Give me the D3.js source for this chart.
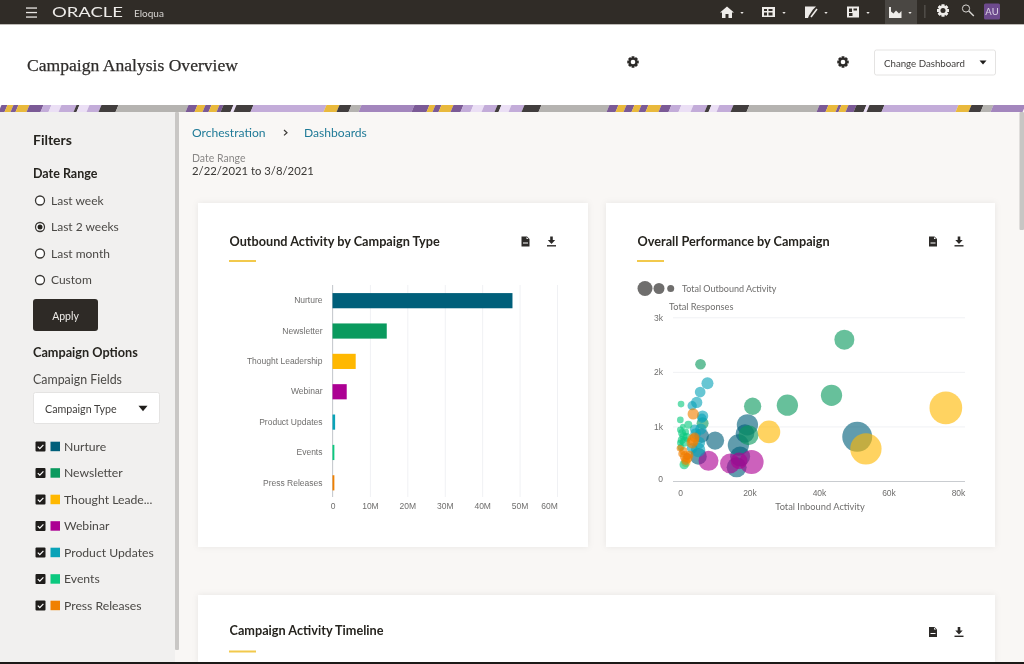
<!DOCTYPE html>
<html>
<head>
<meta charset="utf-8">
<script src="https://cdn.jsdelivr.net/npm/d3@7"></script>
<style>
  html, body { margin: 0; padding: 0; background: #f9f7f5; overflow: hidden; }
  svg { display: block; font-family: Lato, "Open Sans", sans-serif; filter: blur(0.4px); }
  .domain { display: none; }
</style>
</head>
<body>
<svg id="page" width="1024" height="664"></svg>
<script>
// ---- data ----
const campaignTypes = ["Nurture", "Newsletter", "Thought Leadership", "Webinar", "Product Updates", "Events", "Press Releases"];
const outboundTotals = [48.1, 14.5, 6.2, 3.8, 0.7, 0.5, 0.5]; // millions
const outboundTicks = [0, 10, 20, 30, 40, 50, 60];
const inboundTicks = [0, 20, 40, 60, 80];
const responseTicks = [0, 1, 2, 3];
const sidebarLabels = ["Nurture", "Newsletter", "Thought Leade...", "Webinar", "Product Updates", "Events", "Press Releases"];
const dateOptions = ["Last week", "Last 2 weeks", "Last month", "Custom"];

// [inbound k, responses k, outbound M]
const nurturePoints = [[51, .81, 9.3], [19.4, 1.03, 4.7], [18.7, .87, 3.6], [16.8, .66, 4.7], [16.3, .25, 4.15], [17.3, .45, 4.15], [10.1, .74, 3.4], [6.2, .83, 2.2], [5.3, .45, 2.9]];
const newsletterPoints = [[47.3, 2.59, 4.15], [43.6, 1.57, 4.7], [30.9, 1.39, 4.7], [20.9, 1.37, 3.1], [5.9, 2.14, 1.18], [19.7, .84, 4.15], [6.5, 1.06, 1.5]];
const thoughtPoints = [[76.5, 1.34, 11.08], [53.5, .59, 10.2], [25.6, .9, 5.3], [1.7, .34, .9]];
const webinarPoints = [[8.2, .37, 4.15], [14.4, .32, 4.15], [20.6, .35, 6], [17, .37, 2.9], [2, .45, .5]];
const productPoints = [[7.9, 1.79, 1.5], [5.8, 1.63, 1.18], [4.8, 1.44, 1.33], [3.5, 1.38, .9], [6.5, 1.19, 1.33], [6.3, 1.15, .9], [4.5, .87, 1.18], [5.2, .57, 2.2], [4.2, .95, .9], [6, .95, 1.3], [5.5, .7, 1.5], [3.5, .6, 1.2]];
const eventPoints = [[.3, 1.41, .46], [.1, 1.12, .46], [2.4, 1.03, .66], [.1, .94, .46], [.5, .75, .66], [1.4, .72, 1.05], [.1, .7, .46], [1.2, .3, .9], [.8, 1, .3], [1.6, .9, .5], [1, .82, .66], [.6, .88, .66], [2, .8, .8], [.3, .62, .5]];
const pressPoints = [[3.8, 1.23, 1.33], [3.8, .75, 1.5], [0, .6, .46], [1.5, .45, 1.18], [2.7, .48, .66], [1.7, .38, .9], [.5, .5, .5], [2.2, .42, 1], [1, .55, .66], [3.5, .7, 1.3], [4.2, .8, 1]];
const scatterSeries = [nurturePoints, newsletterPoints, thoughtPoints, webinarPoints, productPoints, eventPoints, pressPoints];

const typeColors = ["#005f7a", "#0a9a5e", "#ffb800", "#ac0093", "#0aa3b8", "#0cc97f", "#f08000"];

// decorative band under the header: [start, end, colour]
const P = "#7b5a96", Y = "#e9b93c", L = "#c3acd9", V = "#ebdff5", D = "#423e3e", G = "#b5b3b0", M = "#a386bd";
const bannerStrip = [[0,6,P],[6,12,Y],[12,17,P],[17,28,Y],[28,42,P],[42,50,L],[50,60,V],[60,75,L],[75,78,D],[78,88,V],[88,100,L],[100,117,D],[117,187,G],
  [187,196,P],[196,204,Y],[204,210,P],[210,218,Y],[218,222,P],[222,232,D],[232,235,V],[235,252,D],[252,325,L],[325,338,Y],[338,350,D],[350,360,G],
  [360,413,M],[413,428,P],[428,434,Y],[434,440,P],[440,452,Y],[452,462,P],[462,472,L],[472,483,V],[483,496,L],[496,500,D],[500,510,V],[510,523,L],[523,540,D],[540,608,G],
  [608,617,P],[617,625,Y],[625,633,P],[633,640,Y],[640,647,P],[647,660,Y],[660,670,P],[670,680,L],[680,692,V],[692,706,L],[706,710,D],[710,718,V],[718,732,L],[732,748,D],[748,818,G],
  [818,827,P],[827,837,Y],[837,840,P],[840,847,Y],[847,855,P],[855,865,D],[865,868,V],[868,883,D],[883,957,L],[957,970,Y],[970,982,D],[982,992,G],[992,1024,M]];

const svg = d3.select("#page");

function label(parent, x, y, str, size, color, weight, anchor) {
  return parent.append("text").attr("x", x).attr("y", y).attr("dy", "0.35em")
    .attr("font-size", size).attr("fill", color).attr("font-weight", weight || 400)
    .attr("text-anchor", anchor || "start").text(str);
}
function box(parent, x, y, w, h, fill, r) {
  return parent.append("rect").attr("x", x).attr("y", y).attr("width", w).attr("height", h)
    .attr("fill", fill).attr("rx", r || 0);
}
function caret(parent, cx, cy, half, color) {
  parent.append("path").attr("d", `M${cx - half},${cy - half * 0.6}h${half * 2}l${-half},${half * 1.2}z`).attr("fill", color);
}
function gear(parent, cx, cy, r, color, hole) {
  const g = parent.append("g").attr("transform", `translate(${cx},${cy})`);
  d3.range(8).forEach(i => {
    g.append("rect").attr("x", -r * 0.24).attr("y", -r).attr("width", r * 0.48).attr("height", r * 2)
      .attr("fill", color).attr("transform", `rotate(${i * 45})`);
  });
  g.append("circle").attr("r", r * 0.78).attr("fill", color);
  g.append("circle").attr("r", r * 0.42).attr("fill", hole);
}
function docIcon(parent, cx, cy) {
  parent.append("path").attr("d", `M${cx - 4},${cy - 5}h5.5l2.5,2.5v7.5h-8z`).attr("fill", "#2c2a28");
  parent.append("path").attr("d", `M${cx + 1},${cy - 4.4}v2h2z`).attr("fill", "#fff");
  box(parent, cx - 2.5, cy + 1, 5, 1, "#fff");
}
function downloadIcon(parent, cx, cy) {
  parent.append("path").attr("d", `M${cx - 1.3},${cy - 5}h2.6v3.5h2.4l-3.7,4l-3.7,-4h2.4z`).attr("fill", "#2c2a28");
  box(parent, cx - 4.5, cy + 3.6, 9, 1.4, "#2c2a28");
}

// ---- page chrome ----
box(svg, 0, 0, 1024, 664, "#f9f7f5");
box(svg, 0, 0, 1024, 24, "#302c27");
box(svg, 0, 24, 1024, 81, "#ffffff");
box(svg, 0, 24, 1024, 1, "#bdbab6");

[8, 12.5, 17].forEach(y => box(svg, 26, y - 0.6, 11, 1.3, "#e8e6e3"));
label(svg, 52, 12.5, "ORACLE", 13.5, "#eeece9", 400).attr("textLength", 71).attr("lengthAdjust", "spacingAndGlyphs");
label(svg, 134, 13, "Eloqua", 10, "#d8d6d3");

// top bar tools
box(svg, 885, 0, 32, 24, "#4a4743");
svg.append("path").attr("d", "M720,12.5l7,-6l7,6h-2v5.5h-3.5v-4h-3v4h-3.5v-5.5z").attr("fill", "#eeece9");
box(svg, 762, 7, 13, 10, "#eeece9");
[[764, 9, 3, 2], [768.5, 9, 4, 2], [764, 12.5, 3, 3], [768.5, 12.5, 4, 3]].forEach(c => box(svg, c[0], c[1], c[2], c[3], "#302c27"));
svg.append("path").attr("d", "M805,6.5h11l-3,3l-4,6l-1,2.5h-3z").attr("fill", "#eeece9");
svg.append("path").attr("d", "M811,17l6,-8").attr("stroke", "#eeece9").attr("stroke-width", 1.5);
box(svg, 847, 6.5, 12, 11, "#eeece9");
box(svg, 849, 8.5, 3, 3.5, "#302c27");
box(svg, 853.5, 8.5, 3.5, 2, "#302c27");
box(svg, 849, 13, 3.5, 3, "#302c27");
svg.append("path").attr("d", "M889,7v11h12.5v-7l-2.5,2.5l-3,-3l-2.5,3l-2.5,-2v-4.5z").attr("fill", "#eeece9");
[742, 784, 826, 868, 910].forEach(x => caret(svg, x, 13, 1.7, "#e8e6e3"));
box(svg, 924.5, 5, 0.8, 13, "#6d6a66");
gear(svg, 943, 10.5, 6, "#eeece9", "#302c27");
svg.append("circle").attr("cx", 966).attr("cy", 8.5).attr("r", 3.6).attr("fill", "none").attr("stroke", "#d8d6d3").attr("stroke-width", 1);
svg.append("path").attr("d", "M968.8,11l5,5").attr("stroke", "#d8d6d3").attr("stroke-width", 1.4);
box(svg, 984, 3.5, 16, 16, "#6d4a8d", 1.5);
label(svg, 992, 12, "AU", 9.5, "#ddd5e6", 400, "middle");

// header
label(svg, 27, 64.5, "Campaign Analysis Overview", 17.5, "#2f2d2b").attr("font-family", "Liberation Serif")
  .attr("textLength", 211).attr("lengthAdjust", "spacingAndGlyphs")
  .attr("stroke", "#2f2d2b").attr("stroke-width", 0.25);
gear(svg, 633, 62, 5.5, "#2c2a28", "#fff");
gear(svg, 843, 62, 5.5, "#2c2a28", "#fff");
box(svg, 874.5, 50, 121, 25, "#fff", 2).attr("stroke", "#e4e3e2");
label(svg, 884, 63.5, "Change Dashboard", 9.7, "#3f3d3b");
caret(svg, 983, 62.5, 3.5, "#1f1d1b");

// decorative band
svg.append("g").selectAll("path").data(bannerStrip).join("path")
  .attr("d", d => `M${d[0] + 1.5},105L${d[1] + 1.5},105L${d[1] - 1.5},112L${d[0] - 1.5},112Z`)
  .attr("fill", d => d[2]);

// sidebar
box(svg, 0, 112, 175, 550, "#f1f0ef");
box(svg, 175, 112, 4, 538, "#c9c7c5", 1);
label(svg, 33, 140, "Filters", 14, "#26241f", 700);
label(svg, 33, 174, "Date Range", 12.5, "#26241f", 700);
dateOptions.forEach((d, i) => {
  const y = 200.5 + i * 26.5;
  svg.append("circle").attr("cx", 40).attr("cy", y).attr("r", 4.5).attr("fill", "#fff").attr("stroke", "#3a3835").attr("stroke-width", 1.3);
  if (i === 1) svg.append("circle").attr("cx", 40).attr("cy", y).attr("r", 2.5).attr("fill", "#26241f");
  label(svg, 51, y, d, 12, "#4a4845");
});
box(svg, 33, 299, 65, 32, "#2e2a26", 3);
label(svg, 65.5, 316, "Apply", 10.5, "#eeece9", 400, "middle");
label(svg, 33, 353, "Campaign Options", 12.7, "#26241f", 700);
label(svg, 33, 379.5, "Campaign Fields", 12.4, "#4a4845");
box(svg, 33.5, 392.5, 126, 31, "#fff", 2).attr("stroke", "#e4e3e2");
label(svg, 45, 409.5, "Campaign Type", 10.7, "#3f3d3b");
caret(svg, 143, 408.5, 4.5, "#1f1d1b");
sidebarLabels.forEach((d, i) => {
  const y = 446.5 + i * 26.5;
  box(svg, 35.5, y - 5, 10, 10, "#1f1d1b", 1);
  svg.append("path").attr("d", `M37.8,${y + 0.2}l2,2l3.6,-3.8`).attr("fill", "none").attr("stroke", "#fff").attr("stroke-width", 1.2);
  box(svg, 50.5, y - 4.8, 9.5, 9.5, typeColors[i]);
  label(svg, 64, y, d, 12.2, "#4a4845");
});

// breadcrumb and range
label(svg, 192, 132.5, "Orchestration", 12.1, "#1f7a97");
svg.append("path").attr("d", "M284,130l3,2.7l-3,2.7").attr("fill", "none").attr("stroke", "#3a3835").attr("stroke-width", 1.2);
label(svg, 304, 132.5, "Dashboards", 12.1, "#1f7a97");
label(svg, 192, 158, "Date Range", 10.5, "#8a8887");
label(svg, 192, 171, "2/22/2021 to 3/8/2021", 11.3, "#3a3835");

// right scrollbar
box(svg, 1019.5, 112, 4.5, 118, "#c8c6c4", 1);

// ---- cards ----
function card(x, y, w, h, title, titleY, iconsY, iconA, iconB) {
  box(svg, x, y, w, h, "#ffffff").style("filter", "drop-shadow(0 0 3px rgba(0,0,0,0.07))");
  label(svg, x + 31.5, titleY, title, 12.7, "#26241f", 700);
  box(svg, x + 31, iconsY + 18.5, 27, 2, "#f2c94c");
  docIcon(svg, iconA, iconsY);
  downloadIcon(svg, iconB, iconsY);
}
card(198, 203, 390, 344, "Outbound Activity by Campaign Type", 241.5, 241.5, 525.5, 551.5);
card(606, 203, 389, 344, "Overall Performance by Campaign", 241.5, 241.5, 933, 959);
card(198, 595, 797, 69, "Campaign Activity Timeline", 630.5, 632, 933, 959);

const axisGrey = "#6f6e6d";

// ---- outbound bars ----
const barX = d3.scaleLinear().domain([0, 60]).range([332.5, 557]);
const barY = d3.scaleBand().domain(campaignTypes).range([285.5, 498]).paddingInner(0.5).paddingOuter(0.25);
const barXAxis = svg.append("g").attr("transform", "translate(0,497)")
  .call(d3.axisBottom(barX).tickValues(outboundTicks).tickSize(-212).tickPadding(6).tickFormat(d => d ? d + "M" : "0"));
barXAxis.selectAll("line").attr("stroke", "#f0f1f4");
barXAxis.selectAll("text").attr("font-family", "inherit").attr("font-size", 8.5).attr("fill", axisGrey);
barXAxis.selectAll(".tick").filter(d => d === 60).select("text").attr("dx", -8);
svg.append("line").attr("x1", barX(0)).attr("x2", barX(0)).attr("y1", 285).attr("y2", 497).attr("stroke", "#c9ccd0");
svg.append("g").selectAll("rect").data(campaignTypes).join("rect")
  .attr("x", barX(0)).attr("y", d => barY(d))
  .attr("width", (d, i) => barX(outboundTotals[i]) - barX(0))
  .attr("height", barY.bandwidth())
  .attr("fill", (d, i) => typeColors[i]);
const barYAxis = svg.append("g").attr("transform", `translate(${barX(0)},0)`)
  .call(d3.axisLeft(barY).tickSize(0).tickPadding(10));
barYAxis.selectAll("text").attr("font-family", "inherit").attr("font-size", 8.5).attr("fill", axisGrey);

// ---- bubbles ----
const scatterX = d3.scaleLinear().domain([0, 80]).range([680, 958]);
const scatterY = d3.scaleLinear().domain([0, 3]).range([481, 317.3]);
const radius = d3.scaleSqrt().domain([0, 12]).range([0, 17]);

const yGrid = svg.append("g").attr("transform", "translate(673,0)")
  .call(d3.axisLeft(scatterY).tickValues(responseTicks).tickSize(-292).tickPadding(10).tickFormat(d => d ? d + "k" : "0"));
yGrid.selectAll("line").attr("stroke", d => d === 0 ? "#c9ccd0" : "#f0f1f4").attr("stroke-width", d => d === 0 ? 1.2 : 1);
yGrid.selectAll("text").attr("font-family", "inherit").attr("font-size", 8.5).attr("fill", axisGrey);
yGrid.selectAll(".tick").filter(d => d === 0).select("text").attr("dy", "0.05em");

const xTicks = svg.append("g").attr("transform", "translate(0,481)")
  .call(d3.axisBottom(scatterX).tickValues(inboundTicks).tickSize(0).tickPadding(9).tickFormat(d => d ? d + "k" : "0"));
xTicks.selectAll("text").attr("font-family", "inherit").attr("font-size", 8.5).attr("fill", axisGrey);

scatterSeries.forEach((points, i) => {
  svg.append("g").selectAll("circle").data(points).join("circle")
    .attr("cx", d => scatterX(d[0])).attr("cy", d => scatterY(d[1])).attr("r", d => radius(d[2]))
    .attr("fill", typeColors[i]).attr("fill-opacity", 0.62);
});

label(svg, 820, 507, "Total Inbound Activity", 9.3, axisGrey, 400, "middle");
label(svg, 669, 307, "Total Responses", 9.2, axisGrey);
[[645, 7.5], [659, 5.5], [670.7, 3.5]].forEach(c => {
  svg.append("circle").attr("cx", c[0]).attr("cy", 288.5).attr("r", c[1]).attr("fill", "#5f5e5d").attr("fill-opacity", 0.9);
});
label(svg, 682, 288.5, "Total Outbound Activity", 9, axisGrey);

// bottom edge of the screenshot
box(svg, 0, 662, 1024, 2, "#1c1a18");
</script>
</body>
</html>
